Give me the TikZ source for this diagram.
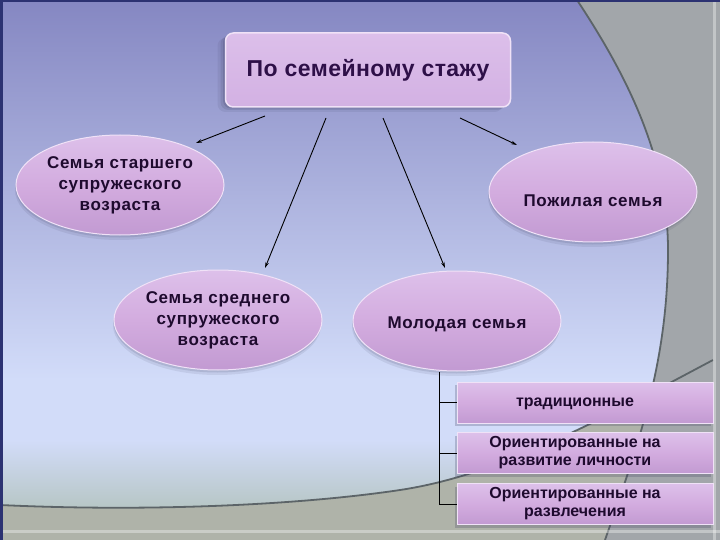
\documentclass[tikz,border=0pt]{standalone}
\usepackage{fontspec}
\setmainfont{Liberation Sans}
\usetikzlibrary{shapes.geometric,arrows.meta,shadows}
\definecolor{bgtop}{HTML}{8587C2}
\definecolor{bgmid}{HTML}{D2DCF9}
\definecolor{bglow}{HTML}{B4C4C0}
\definecolor{greyR}{HTML}{A2A6AA}
\definecolor{greyB}{HTML}{AFB3A9}
\definecolor{curveC}{HTML}{5C6468}
\definecolor{frameC}{HTML}{2C3272}
\definecolor{violetT}{HTML}{DDC0EA}
\definecolor{violetM}{HTML}{D3ACDF}
\definecolor{violetB}{HTML}{C29AD2}
\definecolor{boxT}{HTML}{DCBFEA}
\definecolor{boxB}{HTML}{D3B1E3}
\definecolor{rimC}{HTML}{F0E2F7}
\definecolor{shadC}{HTML}{404060}
\definecolor{txtC}{HTML}{1E0A2E}
\definecolor{txtTop}{HTML}{2E1048}
\newcommand{\barlines}[1]{\makebox[236pt]{\begin{tabular}{@{}c@{}}#1\end{tabular}}\hspace*{20pt}}
\tikzset{
  topbox/.style={rectangle,rounded corners=8pt,minimum width=285pt,minimum height=74pt,
    top color=boxT,bottom color=boxB,draw=rimC,line width=1.5pt,
    general shadow={shadow xshift=-8pt,shadow yshift=-5pt,fill=shadC,opacity=0.10},
    general shadow={shadow xshift=-5pt,shadow yshift=-3pt,fill=shadC,opacity=0.15},
    general shadow={shadow xshift=-2.5pt,shadow yshift=-1.5pt,fill=shadC,opacity=0.2},
    text=txtTop,font=\bfseries\fontsize{23}{26}\selectfont\addfontfeatures{LetterSpace=2}},
  oval/.style={ellipse,minimum width=208pt,minimum height=100pt,inner sep=0pt,align=center,
    top color=violetT,bottom color=violetB,middle color=violetM,draw=rimC,line width=1pt,
    general shadow={shadow xshift=-1pt,shadow yshift=-5pt,fill=shadC,opacity=0.10},
    general shadow={shadow xshift=-0.5pt,shadow yshift=-2.5pt,fill=shadC,opacity=0.15},
    text=txtC,font=\bfseries\fontsize{17}{21}\selectfont\addfontfeatures{LetterSpace=4}},
  bar/.style={rectangle,minimum width=256pt,minimum height=41pt,inner sep=0pt,
    top color=violetT,bottom color=violetB,middle color=violetM,draw=rimC,line width=1pt,
    general shadow={shadow xshift=-2pt,shadow yshift=-3pt,fill=shadC,opacity=0.25},
    text=txtC,font=\bfseries\fontsize{16}{18}\selectfont},
  conn/.style={line width=0.9pt,black,-{Stealth[length=6pt,width=3.5pt]}},
  tree/.style={line width=1pt,black}
}
\begin{document}
\begin{tikzpicture}[x=1pt,y=-1pt]
\useasboundingbox (0,0) rectangle (720,540);
% background
\fill[greyR] (0,0) rectangle (720,540);
\begin{scope}
  \clip (577,0) .. controls (630,80) and (668,160) .. (668,250)
        .. controls (668,360) and (640,440) .. (605,540) -- (0,540) -- (0,0) -- cycle;
  \fill[greyB] (0,0) rectangle (720,540);
  \clip (0,505) .. controls (150,512) and (300,505) .. (400,490)
        .. controls (500,475) and (600,420) .. (713,360) -- (720,360) -- (720,0) -- (0,0) -- cycle;
  \shade[top color=bgtop,bottom color=bgmid] (0,0) rectangle (720,380);
  \fill[bgmid] (0,379) rectangle (720,441);
  \shade[top color=bgmid,bottom color=bglow] (0,440) rectangle (720,515);
\end{scope}
\draw[curveC,line width=1.8pt] (577,0) .. controls (630,80) and (668,160) .. (668,250)
        .. controls (668,360) and (640,440) .. (605,540);
\draw[curveC,line width=1.8pt] (0,505) .. controls (150,512) and (300,505) .. (400,490)
        .. controls (500,475) and (600,420) .. (713,360);
\fill[frameC] (0,0) rectangle (720,2.5);
\fill[frameC] (0,0) rectangle (3,540);
\fill[white,opacity=0.35] (713,2.5) rectangle (716,540);
\fill[white,opacity=0.35] (3,530) rectangle (720,533);

% nodes
\node[topbox] (top) at (368,70) {По семейному стажу};
\node[oval] (old) at (120,185) {Семья старшего\\супружеского\\возраста};
\node[oval] (mid) at (218,320) {Семья среднего\\супружеского\\возраста};
\node[oval,text height=30pt,text depth=0pt] (eld) at (593,192) {Пожилая семья};
\node[oval,text height=14pt,text depth=0pt] (young) at (457,321) {Молодая семья};
\node[bar] (r1) at (585,402.5) {\barlines{традиционные}};
\node[bar] (r2) at (585,453) {\barlines{Ориентированные на\\развитие личности}};
\node[bar] (r3) at (585,504) {\barlines{Ориентированные на\\развлечения}};

% arrows
\coordinate (s1) at (265,116); \coordinate (t1) at (196,143);
\coordinate (s2) at (326,118); \coordinate (t2) at (265,268);
\coordinate (s3) at (383,118); \coordinate (t3) at (445,268);
\coordinate (s4) at (460,118); \coordinate (t4) at (517,145);
\draw[conn] (s1) -- (t1);
\draw[conn] (s2) -- (t2);
\draw[conn] (s3) -- (t3);
\draw[conn] (s4) -- (t4);

% tree
\coordinate (trunk) at (439,372);
\draw[tree] (trunk) |- (r3.west);
\draw[tree] (trunk |- r1.west) -- (r1.west);
\draw[tree] (trunk |- r2.west) -- (r2.west);
\end{tikzpicture}
\end{document}
